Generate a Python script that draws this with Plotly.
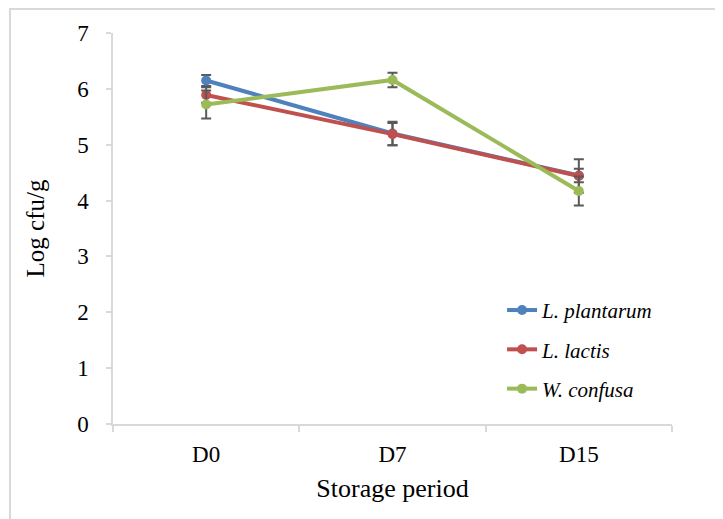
import plotly.graph_objects as go

categories = ["D0", "D7", "D15"]
series_names = ["L. plantarum", "L. lactis", "W. confusa"]
plantarum = [6.15, 5.20, 4.45]
plantarum_err = [0.10, 0.21, 0.12]
lactis = [5.89, 5.19, 4.44]
lactis_err = [0.14, 0.20, 0.30]
confusa = [5.72, 6.16, 4.17]
confusa_err = [0.25, 0.13, 0.26]
y_ticks = [0, 1, 2, 3, 4, 5, 6, 7]

colors = ["#4F81BD", "#C0504D", "#9BBB59"]
FONT = "Liberation Serif, Times New Roman, serif"

fig = go.Figure()
for i, (name, vals, errs) in enumerate(zip(series_names, [plantarum, lactis, confusa],
                                           [plantarum_err, lactis_err, confusa_err])):
    fig.add_trace(go.Scatter(
        x=categories, y=vals, name=f"<i>{name}</i>", mode="lines+markers",
        line=dict(color=colors[i], width=4),
        marker=dict(color=colors[i], size=10),
        error_y=dict(type="data", array=errs, visible=True, color="#595959",
                     thickness=2, width=5),
        legendgroup=f"g{i}",
    ))

fig.update_layout(
    width=723, height=519,
    margin=dict(l=105, r=59, t=25, b=103),
    paper_bgcolor="white", plot_bgcolor="white",
    font=dict(family=FONT, color="#000000", size=23),
    showlegend=True,
    legend=dict(x=0.696, y=0.343, xanchor="left", yanchor="top",
                font=dict(family=FONT, size=21, color="#000000"),
                bgcolor="rgba(0,0,0,0)", tracegroupgap=9,
                traceorder="grouped"),
    xaxis=dict(type="category", range=[-0.5, 2.5], tickson="boundaries",
               showline=True, linecolor="#d9d9d9", linewidth=1.5,
               ticks="outside", ticklen=6, tickcolor="#d9d9d9", tickwidth=1.5,
               showgrid=False, zeroline=False, ticklabelstandoff=9,
               tickfont=dict(family=FONT, size=23),
               title=dict(text="Storage period", font=dict(family=FONT, size=26), standoff=12)),
    yaxis=dict(range=[0, 7], tickvals=y_ticks,
               showline=True, linecolor="#d9d9d9", linewidth=1.5,
               ticks="outside", ticklen=5, tickcolor="#d9d9d9", tickwidth=1.5,
               showgrid=False, zeroline=False, ticklabelstandoff=13,
               tickfont=dict(family=FONT, size=23),
               title=dict(text="Log cfu/g", font=dict(family=FONT, size=25), standoff=25)),
    shapes=[dict(type="rect", xref="paper", yref="paper",
                 x0=-0.1843, x1=1.3, y0=-0.4, y1=1.0614,
                 line=dict(color="#d9d9d9", width=2), layer="below")],
)

fig.write_html("out.html")
